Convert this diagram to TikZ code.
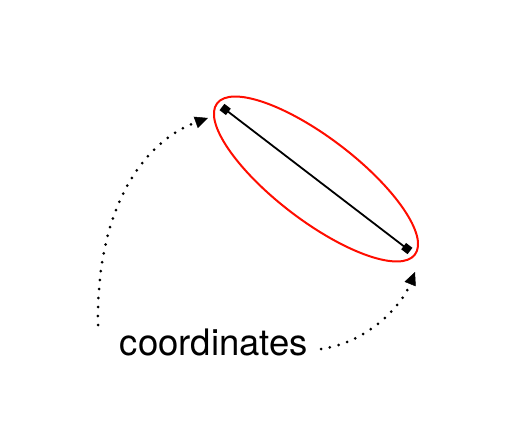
\documentclass[tikz,border=0pt]{standalone}
\usepackage{fontspec}
\setmainfont{TeX Gyre Heros}
\usetikzlibrary{arrows.meta}

\begin{document}
\begin{tikzpicture}[x=1pt,y=1pt,
        dotarrow/.style={line width=3pt,line cap=round,dash pattern=on 0pt off 9pt,
            -{Triangle[length=13pt,width=12pt,line width=0.5pt]}},
        markline/.style={line width=1.8pt,{Square[length=8pt,width=8pt]}-{Square[length=8pt,width=8pt]}}]
        \useasboundingbox (0,0) rectangle (517,429);
        \coordinate (A) at (222,322);
        \coordinate (B) at (410,178);
        \coordinate (C) at (316,250);
        \draw[red!90!orange,line width=2pt,rotate around={-37.4:(C)}] (C) ellipse (124.5 and 41.4);
        \draw[markline] (A) -- (B);
        \node[anchor=base,font=\fontsize{36.5}{40}\selectfont] (lbl) at (214,74) {coordinates};
        \coordinate (s1) at (98,104);
        \coordinate (t1) at (208,311);
        \coordinate (s2) at (321,80);
        \coordinate (t2) at (415,157);
        \draw[dotarrow] (s1) .. controls (96,230) and (150,290) .. (t1);
        \draw[dotarrow] (s2) .. controls (365,86) and (400,120) .. (t2);
    \end{tikzpicture}
\end{document}
